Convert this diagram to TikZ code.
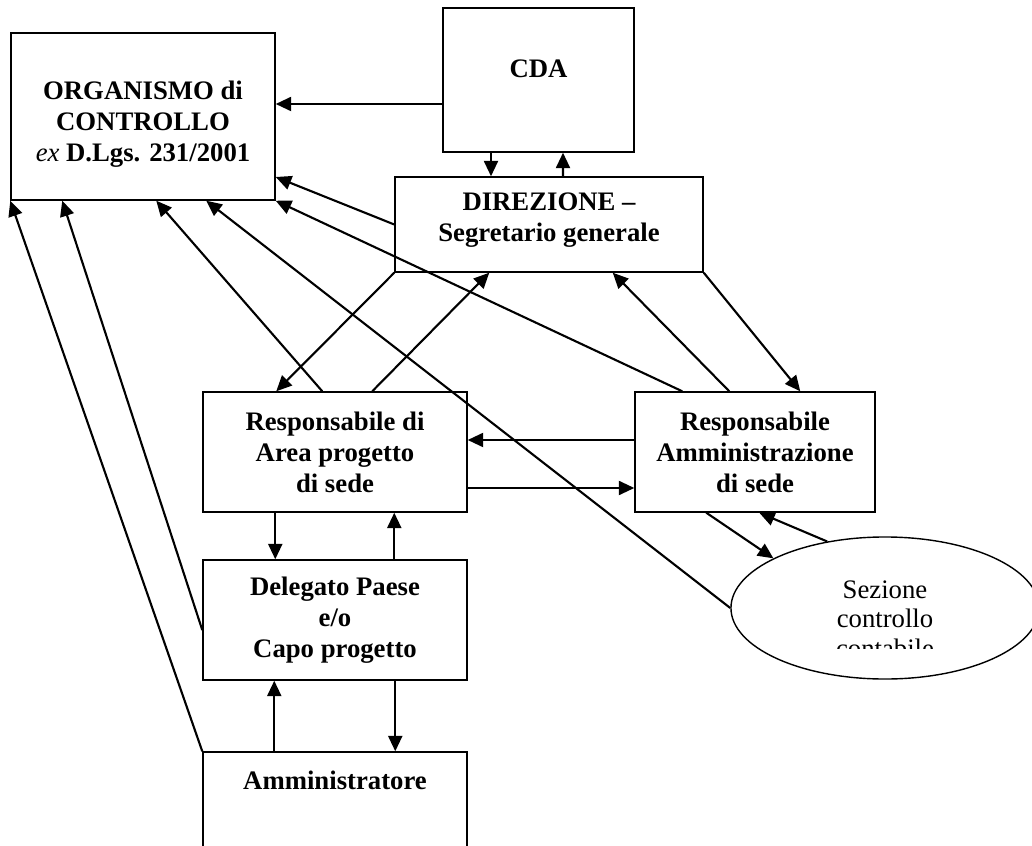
\documentclass[tikz,border=0pt]{standalone}
\usepackage{fontspec}
\setmainfont{Liberation Serif}
\usetikzlibrary{shapes.geometric,arrows.meta,calc}
\tikzset{
  box/.style={draw, line width=1pt, align=center, inner sep=0pt,
    font=\bfseries\fontsize{19}{22}\selectfont},
  arr/.style={line width=1.5pt, -{Triangle[length=11pt,width=10pt]}},
}
\begin{document}
\begin{tikzpicture}[x=0.025cm, y=-0.025cm]
\useasboundingbox (0,0) rectangle (1032,846);

\node[box, minimum width=6.6cm, minimum height=4.175cm] (org) at (143,116.5) {\rule{0pt}{24pt}ORGANISMO di\\CONTROLLO\\{\mdseries\itshape ex} D.Lgs. 231/2001};
\node[box, minimum width=4.775cm, minimum height=3.6cm] (cda) at (538.5,80) {\rule{0pt}{18pt}CDA\\\mbox{}};
\node[box, minimum width=7.7cm, minimum height=2.375cm] (dir) at (549,224.5) {DIREZIONE --\\Segretario generale\rule[-11pt]{0pt}{0pt}};
\node[box, minimum width=6.6cm, minimum height=3cm] (area) at (335,452) {Responsabile di\\Area progetto\\di sede};
\node[box, minimum width=6cm, minimum height=3cm] (ramm) at (755,452) {Responsabile\\Amministrazione\\di sede};
\node[box, minimum width=6.6cm, minimum height=3cm] (del) at (335,620) {Delegato Paese\\e/o\\Capo progetto};
\node[box, minimum width=6.6cm, minimum height=2.95cm] (amm) at (335,811) {Amministratore\\\mbox{}\\\mbox{}};
\node[draw, ellipse, line width=1pt, minimum width=7.7cm, minimum height=3.55cm, inner sep=0pt] (ell) at (885,608) {};
\begin{scope}
\clip (700,540) rectangle (1032,648);
\node[align=center, font=\fontsize{19}{21}\selectfont] (sez) at (885,619) {Sezione\\controllo\\contabile};
\end{scope}

\draw[arr] ($(cda.west)+(0,24)$) -- ($(org.east)+(0,-12.5)$);
\draw[arr] ($(cda.south)+(-47.5,0)$) -- ($(dir.north)+(-58,0)$);
\draw[arr] ($(dir.north)+(14,0)$) -- ($(cda.south)+(24.5,0)$);
\draw[arr] (dir.west) -- ($(org.east)+(0,60.5)$);
\draw[arr] ($(ramm.north west)+(48,0)$) -- (org.south east);
\draw[arr] ($(area.north west)+(120,0)$) -- ($(org.south west)+(146,0)$);
\draw[arr] (ell.west) -- ($(org.south west)+(196,0)$);
\draw[arr] ($(del.west)+(0,10)$) -- ($(org.south west)+(52,0)$);
\draw[arr] (amm.north west) -- (org.south west);
\draw[arr] (dir.south west) -- ($(area.north west)+(74,0)$);
\draw[arr] ($(area.north west)+(170,0)$) -- ($(dir.south west)+(95,0)$);
\draw[arr] ($(ramm.north west)+(95,0)$) -- ($(dir.south east)+(-91,0)$);
\draw[arr] (dir.south east) -- ($(ramm.north west)+(166,0)$);
\draw[arr] ($(ramm.west)+(0,-12)$) -- ($(area.east)+(0,-12)$);
\draw[arr] ($(area.east)+(0,36)$) -- ($(ramm.west)+(0,36)$);
\draw[arr] ($(area.south west)+(73,0)$) -- ($(del.north west)+(73,0)$);
\draw[arr] ($(del.north west)+(192,0)$) -- ($(area.south west)+(192,0)$);
\draw[arr] ($(amm.north west)+(72,0)$) -- ($(del.south west)+(72,0)$);
\draw[arr] ($(del.south west)+(193,0)$) -- ($(amm.north west)+(193,0)$);
\draw[arr] ($(ramm.south west)+(72,0)$) -- (ell.156);
\draw[arr] (ell.131) -- ($(ramm.south west)+(125,0)$);
\end{tikzpicture}
\end{document}
